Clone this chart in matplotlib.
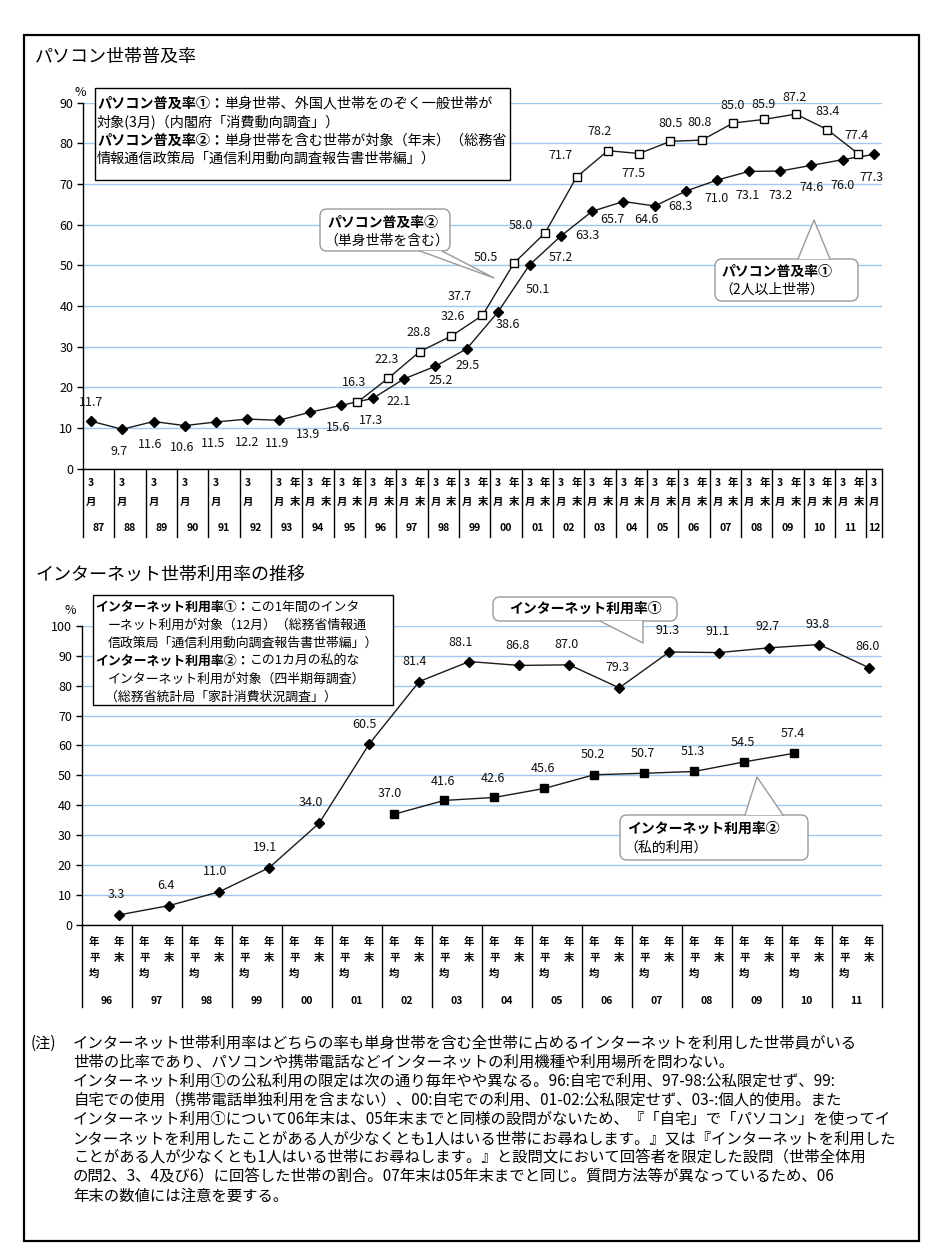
import matplotlib
matplotlib.use('Agg')
import matplotlib.pyplot as plt
from matplotlib.patches import Rectangle, FancyBboxPatch, Polygon
from matplotlib.transforms import blended_transform_factory

plt.rcParams['font.family'] = ['Noto Sans CJK JP', 'DejaVu Sans']

# パソコン世帯普及率 (①: 3月調査, ②: 年末調査)
pc_years = ['87', '88', '89', '90', '91', '92', '93', '94', '95', '96', '97', '98', '99',
            '00', '01', '02', '03', '04', '05', '06', '07', '08', '09', '10', '11', '12']
pc_rate1 = [11.7, 9.7, 11.6, 10.6, 11.5, 12.2, 11.9, 13.9, 15.6, 17.3, 22.1, 25.2, 29.5,
            38.6, 50.1, 57.2, 63.3, 65.7, 64.6, 68.3, 71.0, 73.1, 73.2, 74.6, 76.0, 77.3]
pc_rate2_years = ['95', '96', '97', '98', '99', '00', '01', '02', '03', '04', '05', '06',
                  '07', '08', '09', '10', '11']
pc_rate2 = [16.3, 22.3, 28.8, 32.6, 37.7, 50.5, 58.0, 71.7, 78.2, 77.5, 80.5, 80.8,
            85.0, 85.9, 87.2, 83.4, 77.4]
pc_nenmatsu_years = pc_years[6:25]   # 93〜11 は 3月/年末 の2区分

# インターネット世帯利用率 (①: 年末, ②: 年平均)
net_years = ['96', '97', '98', '99', '00', '01', '02', '03', '04', '05', '06', '07',
             '08', '09', '10', '11']
net_rate1 = [3.3, 6.4, 11.0, 19.1, 34.0, 60.5, 81.4, 88.1, 86.8, 87.0, 79.3, 91.3,
             91.1, 92.7, 93.8, 86.0]
net_rate2_years = ['02', '03', '04', '05', '06', '07', '08', '09', '10']
net_rate2 = [37.0, 41.6, 42.6, 45.6, 50.2, 50.7, 51.3, 54.5, 57.4]

# data label offsets in pixels (right, down)
pc1_off = [(0, -19), (-3, 22), (-3, 23), (-3, 22), (-3, 22), (0, 23), (-2, 23), (-2, 22),
           (-3, 22), (-2, 22), (-5, 23), (5, 14), (1, 17), (10, 13), (8, 25), (0, 21),
           (-5, 24), (-11, 18), (-8, 14), (-6, 16), (-1, 19), (-1, 24), (0, 24), (0, 22),
           (0, 26), (-3, 23)]
pc2_off = [(-3, -20), (-2, -19), (-1, -19), (2, -20), (-23, -19), (-28, -6), (-24, -7),
           (-16, -22), (-8, -19), (-6, 20), (0, -18), (-2, -18), (-1, -18), (-1, -15),
           (-1, -17), (0, -18), (-2, -18)]
net1_off = [(-3, -20), (-3, -20), (-4, -20), (-4, -20), (-8, -21), (-5, -19), (-5, -20),
            (-9, -19), (-2, -20), (-3, -20), (-2, -20), (-2, -21), (-2, -21), (-2, -21),
            (-2, -20), (-2, -21)]
net2_off = [(-4, -21), (-1, -19), (-1, -19), (-1, -20), (-1, -20), (-1, -20), (-1, -20),
            (-1, -19), (-1, -20)]

W, H = 935, 1250
GRID = '#9fc8ef'
LINE = '#1a1a1a'
fig = plt.figure(figsize=(W / 100, H / 100), dpi=100)


def px_axes(x0, y0, x1, y1):
    return fig.add_axes([x0 / W, 1 - y1 / H, (x1 - x0) / W, (y1 - y0) / H])


def style(ax, ymax):
    ax.set_ylim(0, ymax)
    ax.set_yticks(range(0, ymax + 1, 10))
    ax.set_xticks([])
    ax.yaxis.grid(True, color=GRID, lw=1)
    ax.set_axisbelow(True)
    for s in ('top', 'right'):
        ax.spines[s].set_visible(False)
    for s in ('left', 'bottom'):
        ax.spines[s].set_color('black')
        ax.spines[s].set_linewidth(1)
    ax.tick_params(axis='y', direction='out', length=4, width=1, labelsize=9, pad=3)


def labels(ax, xs, ys, offs):
    for x, y, (dx, dy) in zip(xs, ys, offs):
        ax.annotate(f'{y:.1f}', (x, y), xytext=(dx, -dy), textcoords='offset pixels',
                    ha='center', va='center', fontsize=9, color='#111111')


def cell(ax, x, dy, txt):
    ax.annotate(txt, (x, 0), xycoords=('data', 'axes fraction'), xytext=(0, -dy),
                textcoords='offset pixels', ha='center', va='center',
                fontsize=7.5, fontweight='bold', annotation_clip=False)


def separators(ax, edges, depth):
    trans = blended_transform_factory(ax.transData, ax.transAxes)
    for e in edges:
        ax.plot([e, e], [0, -depth], color='black', lw=1, transform=trans, clip_on=False)


# ---- パソコン世帯普及率 ----
ax1 = px_axes(83, 102.7, 882, 468.7)
style(ax1, 90)
ax1.set_xlim(0, 2 * len(pc_years) - 1)
x1 = [2 * pc_years.index(y) + 0.5 for y in pc_years]
x2 = [2 * pc_years.index(y) + 1.5 for y in pc_rate2_years]
ax1.plot(x1, pc_rate1, color=LINE, lw=1, marker='D', ms=5.5, mfc='black', mec='black', zorder=3)
ax1.plot(x2, pc_rate2, color=LINE, lw=1, marker='s', ms=6, mfc='white', mec='black',
         mew=1, zorder=3)
labels(ax1, x1, pc_rate1, pc1_off)
labels(ax1, x2, pc_rate2, pc2_off)

for k, yr in enumerate(pc_years):
    cell(ax1, 2 * k + 0.5, 14, '3')
    cell(ax1, 2 * k + 0.5, 33, '月')
    if yr in pc_nenmatsu_years:
        cell(ax1, 2 * k + 1.5, 14, '年')
        cell(ax1, 2 * k + 1.5, 33, '末')
    mid = 2 * k + 0.5 if k == len(pc_years) - 1 else 2 * k + 1
    cell(ax1, mid, 59, yr)
separators(ax1, [2 * k for k in range(len(pc_years))] + [2 * len(pc_years) - 1], 68 / 366)

# ---- インターネット世帯利用率 ----
ax2 = px_axes(81.7, 626, 881.7, 924.7)
style(ax2, 100)
ax2.set_xlim(0, 2 * len(net_years))
n1 = [2 * net_years.index(y) + 1.5 for y in net_years]
n2 = [2 * net_years.index(y) + 0.5 for y in net_rate2_years]
ax2.plot(n1, net_rate1, color=LINE, lw=1, marker='D', ms=5.5, mfc='black', mec='black', zorder=3)
ax2.plot(n2, net_rate2, color=LINE, lw=1, marker='s', ms=5.5, mfc='black', mec='black', zorder=3)
labels(ax2, n1, net_rate1, net1_off)
labels(ax2, n2, net_rate2, net2_off)

for k, yr in enumerate(net_years):
    cell(ax2, 2 * k + 0.5, 17, '年')
    cell(ax2, 2 * k + 0.5, 33.5, '平')
    cell(ax2, 2 * k + 0.5, 49.5, '均')
    cell(ax2, 2 * k + 1.5, 17, '年')
    cell(ax2, 2 * k + 1.5, 33.5, '末')
    cell(ax2, 2 * k + 1, 76, yr)
separators(ax2, [2 * k for k in range(len(net_years) + 1)], 82 / 298.7)

# ---- overlay in pixel coordinates: frame, titles, boxes, callouts, notes ----
ov = fig.add_axes([0, 0, 1, 1])
ov.set_xlim(0, W)
ov.set_ylim(H, 0)
ov.axis('off')
ov.patch.set_alpha(0)
renderer = fig.canvas.get_renderer()

ov.add_patch(Rectangle((24, 35), 895, 1206, fill=False, ec='black', lw=1.6))
ov.text(35, 57, 'パソコン世帯普及率', fontsize=13, va='center')
ov.text(35, 575, 'インターネット世帯利用率の推移', fontsize=13, va='center')
ov.text(80, 93, '%', fontsize=9, ha='center', va='center')
ov.text(70, 611, '%', fontsize=9, ha='center', va='center')


def rich(x, y, parts, size):
    for txt, wt in parts:
        t = ov.text(x, y, txt, fontsize=size, fontweight=wt, va='center', ha='left')
        x += t.get_window_extent(renderer=renderer).width


# 出典ボックス
ov.add_patch(Rectangle((95, 88), 415, 92, fc='white', ec='black', lw=1, zorder=2))
rich(97, 104, [('パソコン普及率①：', 'bold'), ('単身世帯、外国人世帯をのぞく一般世帯が', 'normal')], 10.2)
rich(97, 122, [('対象(3月)（内閣府「消費動向調査」）', 'normal')], 10.2)
rich(97, 141, [('パソコン普及率②：', 'bold'), ('単身世帯を含む世帯が対象（年末）（総務省', 'normal')], 10.2)
rich(97, 159, [('情報通信政策局「通信利用動向調査報告書世帯編」）', 'normal')], 10.2)

ov.add_patch(Rectangle((93, 595), 300, 110, fc='white', ec='black', lw=1, zorder=2))
rich(95, 607, [('インターネット利用率①：', 'bold'), ('この1年間のインタ', 'normal')], 9.3)
rich(108, 625, [('ーネット利用が対象（12月）（総務省情報通', 'normal')], 9.3)
rich(108, 643, [('信政策局「通信利用動向調査報告書世帯編」）', 'normal')], 9.3)
rich(95, 661, [('インターネット利用率②：', 'bold'), ('この1カ月の私的な', 'normal')], 9.3)
rich(108, 679, [('インターネット利用が対象（四半期毎調査）', 'normal')], 9.3)
rich(105, 697, [('（総務省統計局「家計消費状況調査」）', 'normal')], 9.3)


def callout(x0, y0, x1, y1, b1, b2, tip):
    ov.add_patch(FancyBboxPatch((x0, y0), x1 - x0, y1 - y0,
                                boxstyle='round,pad=0,rounding_size=7',
                                fc='white', ec='#9a9a9a', lw=1, zorder=2))
    ov.add_patch(Polygon([b1, tip, b2], closed=True, fc='white', ec='none', zorder=2.1))
    ov.plot([b1[0], tip[0], b2[0]], [b1[1], tip[1], b2[1]], color='#9a9a9a', lw=1, zorder=2.2)


callout(320, 209, 450, 251, (420, 251), (442, 251), (494, 278))
ov.text(327, 223, 'パソコン普及率②', fontsize=10, fontweight='bold', va='center', zorder=3)
ov.text(324, 241, '（単身世帯を含む）', fontsize=10, va='center', zorder=3)

callout(715, 259, 858, 301, (798, 259), (830, 259), (814, 220))
ov.text(722, 272, 'パソコン普及率①', fontsize=10, fontweight='bold', va='center', zorder=3)
ov.text(719, 290, '（2人以上世帯）', fontsize=10, va='center', zorder=3)

callout(493, 597, 677, 621, (600, 621), (643, 621), (643, 643))
ov.text(585, 609, 'インターネット利用率①', fontsize=10, fontweight='bold',
        ha='center', va='center', zorder=3)

callout(620, 815, 808, 860, (745, 815), (783, 815), (757, 777))
ov.text(627, 829, 'インターネット利用率②', fontsize=10, fontweight='bold', va='center', zorder=3)
ov.text(624, 848, '（私的利用）', fontsize=10, va='center', zorder=3)

# 注記
notes = [
    'インターネット世帯利用率はどちらの率も単身世帯を含む全世帯に占めるインターネットを利用した世帯員がいる',
    '世帯の比率であり、パソコンや携帯電話などインターネットの利用機種や利用場所を問わない。',
    'インターネット利用①の公私利用の限定は次の通り毎年やや異なる。96:自宅で利用、97-98:公私限定せず、99:',
    '自宅での使用（携帯電話単独利用を含まない）、00:自宅での利用、01-02:公私限定せず、03-:個人的使用。また',
    'インターネット利用①について06年末は、05年末までと同様の設問がないため、『「自宅」で「パソコン」を使ってイ',
    'ンターネットを利用したことがある人が少なくとも1人はいる世帯にお尋ねします。』又は『インターネットを利用した',
    'ことがある人が少なくとも1人はいる世帯にお尋ねします。』と設問文において回答者を限定した設問（世帯全体用',
    'の問2、3、4及び6）に回答した世帯の割合。07年末は05年末までと同じ。質問方法等が異なっているため、06',
    '年末の数値には注意を要する。',
]
ov.text(31, 1043, '(注)', fontsize=11, va='center')
for i, line in enumerate(notes):
    ov.text(73, 1043 + 19.1 * i, line, fontsize=11.1, va='center')

fig.savefig('out.png', dpi=100)
